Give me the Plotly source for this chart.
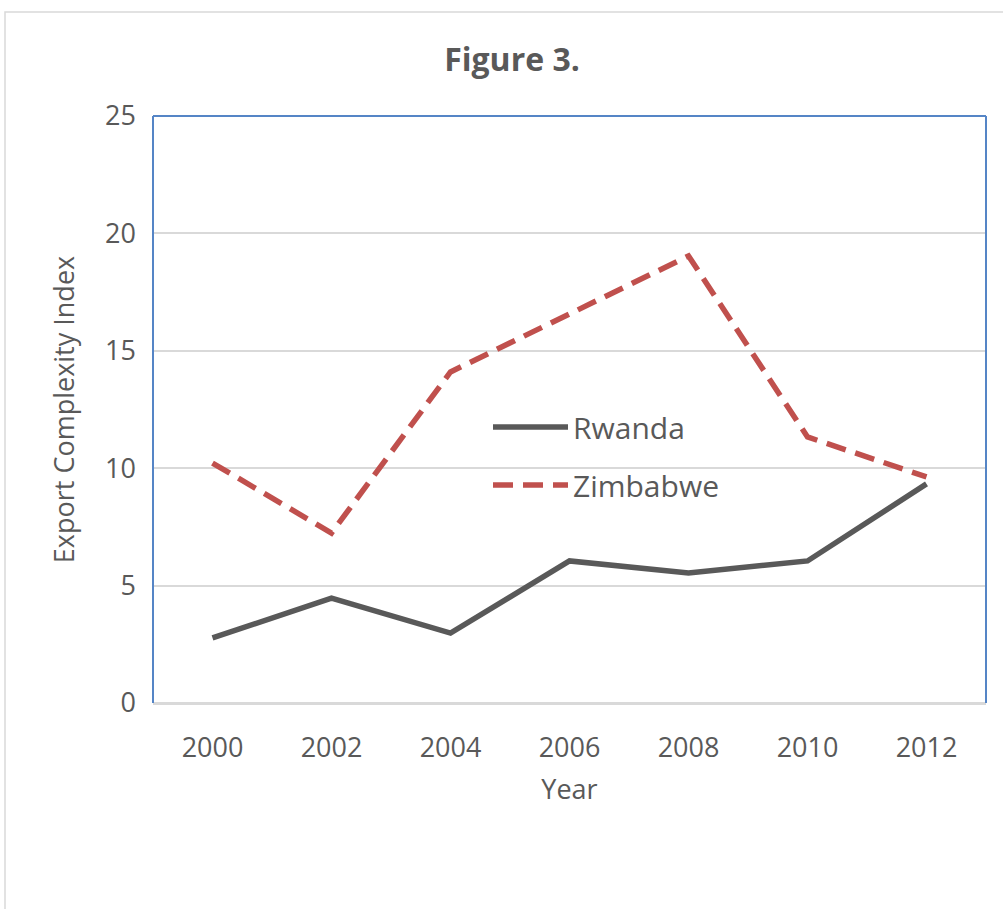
import plotly.graph_objects as go

years = ["2000", "2002", "2004", "2006", "2008", "2010", "2012"]
rwanda = [2.77, 4.47, 2.98, 6.05, 5.54, 6.05, 9.33]
zimbabwe = [10.22, 7.24, 14.1, 16.6, 19.04, 11.33, 9.63]

W, H = 1003, 909
L, R, T, B = 153, 986, 116, 703
pw, ph = R - L, B - T

def px(x):
    return (x - L) / pw

def py(y):
    return (B - y) / ph

txt = "#595959"
font = "Open Sans"

fig = go.Figure()
fig.add_trace(go.Scatter(x=years, y=rwanda, name="Rwanda", mode="lines",
                         line=dict(color="#595959", width=5.5),
                         legendgroup="a"))
fig.add_trace(go.Scatter(x=years, y=zimbabwe, name="Zimbabwe", mode="lines",
                         line=dict(color="#C0504D", width=5.5, dash="20px,10px"),
                         legendgroup="b"))

shapes = [
    # outer chart border
    dict(type="rect", xref="paper", yref="paper", x0=px(5), x1=px(1030),
         y0=py(940), y1=py(12), line=dict(color="#d9d9d9", width=1.5), layer="below"),
    # plot area border (left, top, right) in blue
    dict(type="line", xref="paper", yref="paper", x0=0, x1=0, y0=0, y1=1,
         line=dict(color="#5585C6", width=2)),
    dict(type="line", xref="paper", yref="paper", x0=0, x1=1, y0=1, y1=1,
         line=dict(color="#5585C6", width=2)),
    dict(type="line", xref="paper", yref="paper", x0=1, x1=1, y0=0, y1=1,
         line=dict(color="#5585C6", width=2)),
]

fig.update_layout(
    width=W, height=H,
    margin=dict(l=L, r=W - R, t=T, b=H - B),
    paper_bgcolor="white", plot_bgcolor="white",
    font=dict(family=font, color=txt, size=27),
    title=dict(text="<b>Figure 3.</b>", x=512 / W, xanchor="center",
               y=1 - 60 / H, yanchor="middle",
               font=dict(family=font, size=32, color=txt)),
    xaxis=dict(type="category", range=[-0.5, 6.5], showgrid=False,
               showline=False, zeroline=False,
               ticks="", tickfont=dict(size=27, color=txt),
               ticklabelstandoff=26,
               title=dict(text="Year", font=dict(size=27, color=txt), standoff=16),
               fixedrange=True),
    yaxis=dict(range=[0, 25], dtick=5, showgrid=True, gridcolor="#d9d9d9",
               gridwidth=1.5, zeroline=True, zerolinecolor="#d9d9d9",
               zerolinewidth=2.5, showline=False, ticks="",
               tickfont=dict(size=27, color=txt), ticklabelstandoff=16,
               title=dict(text="Export Complexity Index",
                          font=dict(size=27, color=txt), standoff=22),
               fixedrange=True),
    legend=dict(x=px(488), xanchor="left", y=py(401), yanchor="top",
                bgcolor="rgba(0,0,0,0)", font=dict(size=30, color=txt),
                itemwidth=75, tracegroupgap=16),
    showlegend=True,
    shapes=shapes,
)

fig.write_html("out.html")
